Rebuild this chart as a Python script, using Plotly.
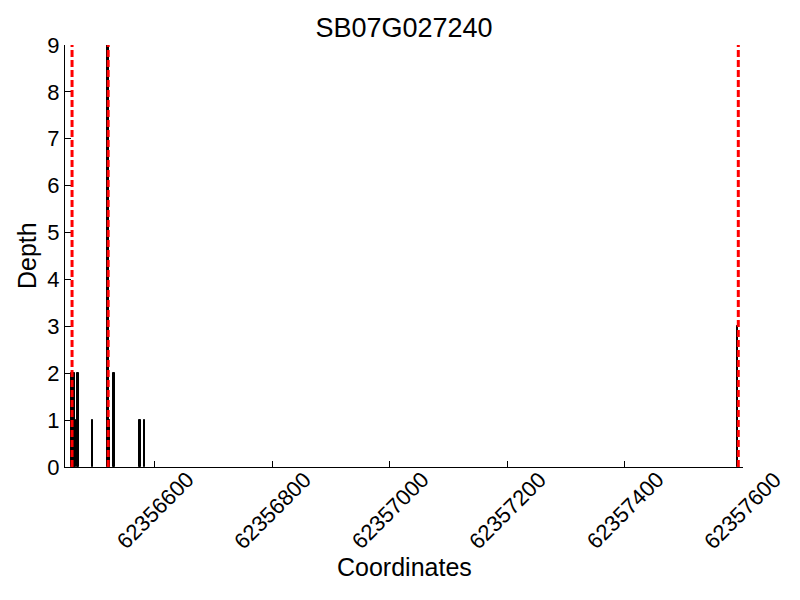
import plotly.graph_objects as go

title = "SB07G027240"
positions = [62356459, 62356462, 62356465, 62356469, 62356494, 62356520,
             62356523, 62356530, 62356575, 62356582, 62357592]
depths = [2, 2, 1, 2, 1, 9, 1, 2, 1, 1, 3]
boundaries = [62356459, 62356520.5, 62357593]
x_range = [62356447, 62357601]
x_ticks = [62356600, 62356800, 62357000, 62357200, 62357400, 62357600]
y_ticks = list(range(0, 10))

FONT = "Liberation Sans, Arial, sans-serif"

fig = go.Figure()
fig.add_trace(go.Bar(
    x=positions, y=depths, width=2.5,
    marker=dict(color="black", line=dict(color="black", width=1)),
    showlegend=False,
))
for b in boundaries:
    fig.add_shape(type="line", xref="x", yref="paper", x0=b, x1=b, y0=0, y1=1,
                  line=dict(color="red", width=3, dash="7px,3px"))

# x tick labels centred on their ticks (rotated 45 degrees)
for t in x_ticks:
    fig.add_annotation(x=t, xref="x", y=0, yref="paper", yshift=-43,
                       text=str(t), textangle=-45, showarrow=False,
                       xanchor="center", yanchor="middle",
                       font=dict(size=22, family=FONT, color="black"))

fig.add_annotation(x=0.5, xref="paper", y=0, yref="paper", yshift=-100,
                   text="Coordinates", showarrow=False,
                   xanchor="center", yanchor="middle",
                   font=dict(size=25, family=FONT, color="black"))
fig.add_annotation(x=0, xref="paper", xshift=-38, y=0.5, yref="paper",
                   text="Depth", textangle=-90, showarrow=False,
                   xanchor="center", yanchor="middle",
                   font=dict(size=25, family=FONT, color="black"))

fig.update_layout(
    width=800, height=600,
    paper_bgcolor="white", plot_bgcolor="white",
    margin=dict(l=57, r=65, t=37, b=141),
    font=dict(family=FONT, color="black", size=16),
    title=dict(text=title, x=0.5, xref="paper", xanchor="center", yref="container",
               y=1 - 20 / 600, yanchor="middle", font=dict(size=27)),
    bargap=0,
)
fig.update_xaxes(
    range=x_range, tickvals=x_ticks, showticklabels=False,
    ticks="inside", ticklen=6, tickcolor="black",
    showline=True, linecolor="black", linewidth=1.3, showgrid=False, zeroline=False,
    automargin=False,
)
fig.update_yaxes(
    range=[0, 9], tickvals=y_ticks, ticks="inside", ticklen=6, tickcolor="black",
    showline=True, linecolor="black", linewidth=1.3, showgrid=False, zeroline=False,
    automargin=False,
    tickfont=dict(size=22),
)
fig.write_html("out.html")
